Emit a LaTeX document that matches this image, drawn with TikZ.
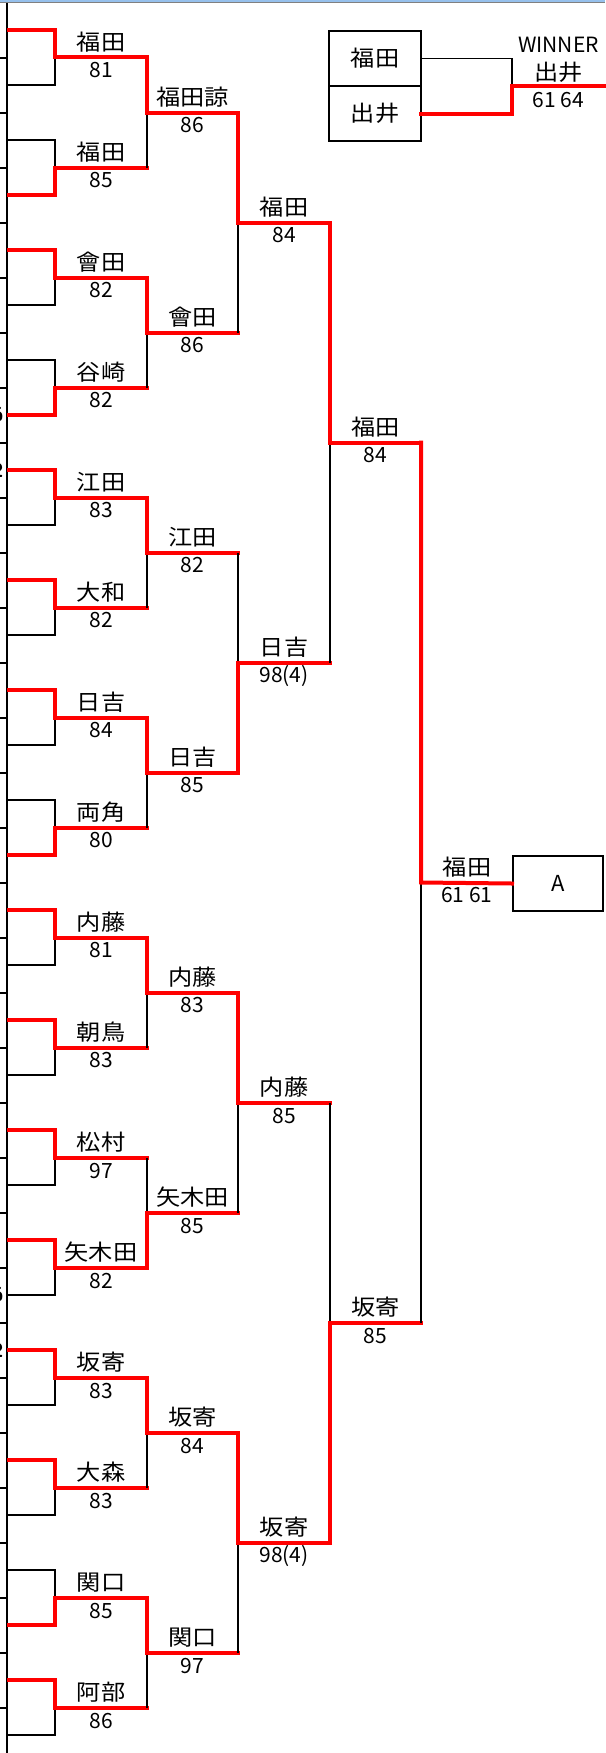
\documentclass[tikz,border=0pt]{standalone}
\usepackage{fontspec}
\usetikzlibrary{positioning}
\newfontfamily\jp{Noto Sans CJK JP}
\newfontfamily\jpwide[FakeStretch=1.1]{Noto Sans CJK JP}
\definecolor{barblue}{RGB}{150,192,236}
\tikzset{
  win/.style={red,line width=4pt,line cap=rect},
  lose/.style={black,line width=2pt},
  losethin/.style={black,line width=1.3pt},
  namelbl/.style={font=\jpwide\fontsize{22}{24}\selectfont,inner sep=0pt},
  scorelbl/.style={font=\jp\fontsize{21}{24}\selectfont,inner sep=0pt},
  cutlbl/.style={font=\sffamily\bfseries\fontsize{20}{22}\selectfont,inner sep=0pt,anchor=east},
  seedbox/.style={draw,line width=1.5pt,outer sep=0pt,minimum width=92pt,minimum height=55pt,
    font=\jpwide\fontsize{22}{24}\selectfont},
}
\begin{document}
\begin{tikzpicture}[x=1pt,y=-1pt]
  \useasboundingbox (0,0) rectangle (605,1753);
  \fill[barblue] (0,0) rectangle (605,2);
  \draw[gray,line width=1.5pt] (0,2.75) -- (605,2.75);
  \draw[lose] (7,3.5) -- (7,1753);
  \foreach \k in {1,...,31}
    \draw[lose] (0,{3+55*\k}) -- (7,{3+55*\k});
  \foreach \y in {415,1295}
    \node[cutlbl] (six\y) at (3.5,\y) {6};
  \foreach \y in {470,1350}
    \node[cutlbl] (two\y) at (3.5,\y) {2};

  % first round
  \foreach \k/\nm/\sc/\w in {0/福田/81/1, 1/福田/85/-1, 2/會田/82/1, 3/谷崎/82/-1,
      4/江田/83/1, 5/大和/82/1, 6/日吉/84/1, 7/両角/80/-1,
      8/内藤/81/1, 9/朝鳥/83/1, 10/松村/97/1, 11/矢木田/82/1,
      12/坂寄/83/1, 13/大森/83/1, 14/関口/85/-1, 15/阿部/86/1} {
    \pgfmathsetmacro\ym{57.5+110*\k}
    \draw[lose] (7,{\ym+27.5*(\w)}) -- (55,{\ym+27.5*(\w)}) -- (55,\ym);
    \draw[win] (9,{\ym-27.5*(\w)}) -- (55,{\ym-27.5*(\w)}) -- (55,\ym) -- (147,\ym);
    \node[namelbl] (ra\k) at (101,{\ym-15}) {\nm};
    \node[scorelbl] (sa\k) at (101,{\ym+13}) {\sc};
  }

  \foreach \k/\nm/\sc/\w in {0/福田諒/86/1, 1/會田/86/1, 2/江田/82/1, 3/日吉/85/1,
      4/内藤/83/1, 5/矢木田/85/-1, 6/坂寄/84/1, 7/関口/97/1} {
    \pgfmathsetmacro\ym{112.5+220*\k}
    \draw[losethin] (147,{\ym+55*(\w)}) -- (147,\ym);
    \draw[win] (147,{\ym-55*(\w)}) -- (147,\ym) -- (238,\ym);
    \node[namelbl] (rb\k) at (192.5,{\ym-15}) {\nm};
    \node[scorelbl] (sb\k) at (192.5,{\ym+13}) {\sc};
  }

  \foreach \k/\nm/\sc/\w in {0/福田/84/1, 1/日吉/98(4)/-1, 2/内藤/85/1, 3/坂寄/98(4)/1} {
    \pgfmathsetmacro\ym{222.5+440*\k}
    \draw[losethin] (238,{\ym+110*(\w)}) -- (238,\ym);
    \draw[win] (238,{\ym-110*(\w)}) -- (238,\ym) -- (330,\ym);
    \node[namelbl] (rc\k) at (284,{\ym-15}) {\nm};
    \node[scorelbl] (sc\k) at (284,{\ym+13}) {\sc};
  }

  \foreach \k/\nm/\sc/\w in {0/福田/84/1, 1/坂寄/85/-1} {
    \pgfmathsetmacro\ym{442.5+880*\k}
    \draw[losethin] (330,{\ym+220*(\w)}) -- (330,\ym);
    \draw[win] (330,{\ym-220*(\w)}) -- (330,\ym) -- (421,\ym);
    \node[namelbl] (rd\k) at (375.5,{\ym-15}) {\nm};
    \node[scorelbl] (sd\k) at (375.5,{\ym+13}) {\sc};
  }

  % final
  \node[draw,line width=2pt,minimum width=90pt,minimum height=55pt,
    font=\jp\fontsize{22}{24}\selectfont] (boxA) at (558,883.5) {A};
  \draw[losethin] (421,1322.5) -- (421,882.5);
  \draw[win] (421,442.5) -- (421,882.5) -- (boxA.west);
  \node[namelbl] (re) at (467,867.5) {福田};
  \node[scorelbl] (se) at (467,895.5) {61 61};

  % third-place box
  \node[seedbox] (top1) at (375,58.5) {福田};
  \node[seedbox,below=0pt of top1] (top2) {出井};
  \coordinate (fin) at (512,85.5);
  \draw[losethin] (top1.east) -| (fin);
  \draw[win] (top2.east) -| (fin) -- (605,85.5);
  \node[scorelbl] (wlbl) at (558.5,45) {WINNER};
  \node[namelbl] (wname) at (558.5,72) {出井};
  \node[scorelbl] (wscore) at (558.5,100) {61 64};
\end{tikzpicture}
\end{document}
